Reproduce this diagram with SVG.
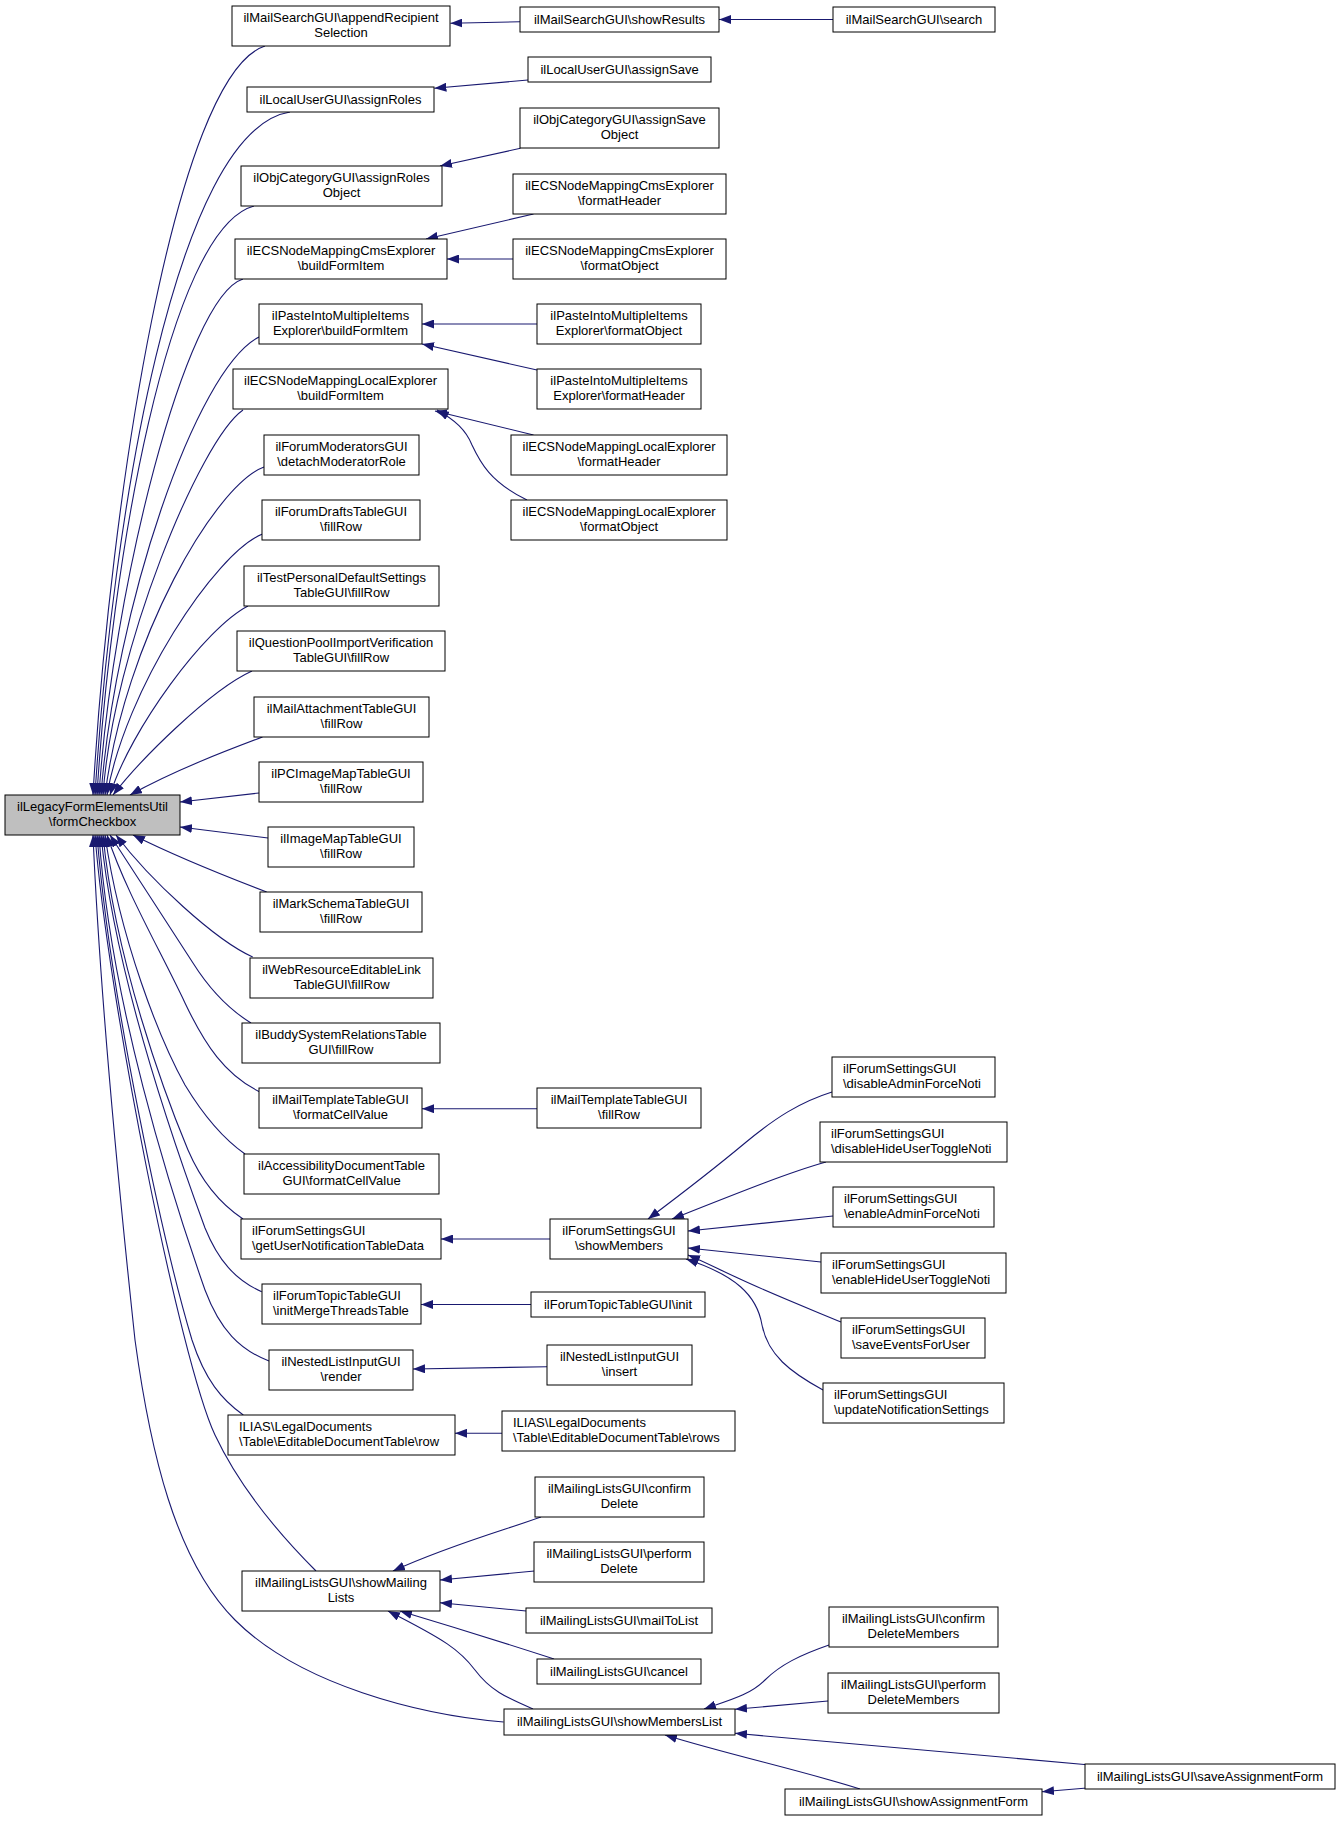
<svg xmlns="http://www.w3.org/2000/svg" width="1344" height="1821" viewBox="0 0 1344 1821">
<style>
g rect{fill:#fff;stroke:#000;stroke-width:1}
g rect.main{fill:#bfbfbf}
text{font-family:"Liberation Sans",Arial,Helvetica,sans-serif;font-size:13px;fill:#000;text-anchor:middle}
text.l{text-anchor:start}
#edges path{fill:none;stroke:#191970;stroke-width:1.1;marker-end:url(#a)}
</style>
<defs>
<marker id="a" markerWidth="12" markerHeight="9" refX="12" refY="4.5" orient="auto" markerUnits="userSpaceOnUse"><path d="M0,0 L12,4.5 L0,9 z" fill="#191970"/></marker>
</defs>
<rect width="1344" height="1821" style="fill:#fff;stroke:none"/>
<g id="edges">
<path d="M265,46 C175,75 110,500 93,795"/>
<path d="M290,112 C175,130 112,520 95,795"/>
<path d="M254,206 C168,229 111,565 97,795"/>
<path d="M243,279 C185,297 112,594 99,795"/>
<path d="M259,337 C195,370 115,610 101,795"/>
<path d="M243,410 C200,440 113,650 103,795"/>
<path d="M264,467 C215,485 125,640 105,795"/>
<path d="M262.5,534 C215,553 125,690 107,795"/>
<path d="M248,606 C205,628 130,730 110,795"/>
<path d="M252,671 C210,690 140,760 113,795"/>
<path d="M262.5,737 C228,750 175,770 130,795"/>
<path d="M259,793 L180,802"/>
<path d="M268,838 L180,827"/>
<path d="M266.7,892 C230,878 175,856 133,835"/>
<path d="M252.7,957 C215,940 150,880 116,835"/>
<path d="M251,1023 C230,1010 210,990 193,963 C175,935 130,866 110,835"/>
<path d="M260,1092 C225,1075 205,1045 185,1003 C160,950 125,890 107,835"/>
<path d="M245,1154 C225,1140 205,1118 185,1085 C160,1040 120,940 105,835"/>
<path d="M243,1219 C222,1205 203,1185 188,1150 C165,1095 115,960 103,835"/>
<path d="M261.7,1291.7 C235,1280 218,1260 205,1228 C180,1160 115,980 101,835"/>
<path d="M269,1361 C240,1350 220,1330 205,1290 C170,1190 110,1000 99,835"/>
<path d="M243.3,1415 C222,1400 205,1380 192,1340 C165,1250 110,1000 97,835"/>
<path d="M316,1571 C280,1535 240,1488 215,1435 C180,1360 108,1000 95,835"/>
<path d="M503.6,1722 C420,1715 300,1685 235,1620 C175,1560 150,1450 135,1340 C120,1200 100,1000 93,835"/>
<path d="M520,21.7 L450.4,23.3"/>
<path d="M833,19.5 L719,19.5"/>
<path d="M528,80 L434.4,88.3"/>
<path d="M520.5,148.3 L440,166"/>
<path d="M533.5,214 L426,239"/>
<path d="M513,259 L447,259"/>
<path d="M537,324 L422,324"/>
<path d="M537,370 L422,344"/>
<path d="M533.5,435 L435,411"/>
<path d="M527,500 C490,482 480,462 472,445 C466,430 455,420 437,410"/>
<path d="M537,1108.7 L422,1108.7"/>
<path d="M550,1239 L441,1239"/>
<path d="M832,1092 C800,1102 775,1118 745,1143 C715,1168 680,1195 648,1219"/>
<path d="M826,1162 C790,1172 740,1192 672,1219"/>
<path d="M833,1216 L688,1231"/>
<path d="M821,1262 L688,1248"/>
<path d="M841,1322 C800,1305 770,1293 740,1279 C720,1270 705,1262 688,1255"/>
<path d="M823,1390 C790,1372 768,1355 762,1325 C757,1295 735,1275 686,1259"/>
<path d="M531,1304.5 L421,1304.5"/>
<path d="M547,1366.7 L413,1369"/>
<path d="M502,1433.3 L455,1433.3"/>
<path d="M541,1517 C505,1530 450,1545 393,1571"/>
<path d="M534.4,1571 L440,1580"/>
<path d="M526.3,1611 L440,1602.7"/>
<path d="M554,1659 C520,1648 480,1635 400,1611"/>
<path d="M533,1709 C505,1697 490,1690 475,1670 C460,1650 445,1640 388,1611"/>
<path d="M829,1645 C800,1655 780,1665 765,1680 C750,1695 730,1700 704,1709"/>
<path d="M828,1701 L735,1709.3"/>
<path d="M1090,1765 L735,1733.3"/>
<path d="M860,1789 C800,1770 730,1755 665,1735"/>
<path d="M1090,1787.7 L1042,1791.7"/>
</g>
<g id="n1"><rect x="232" y="6" width="218" height="40"/><text x="341" y="22">ilMailSearchGUI\appendRecipient</text><text x="341" y="37">Selection</text></g>
<g id="n2"><rect x="520" y="7" width="199" height="25"/><text x="619.5" y="24">ilMailSearchGUI\showResults</text></g>
<g id="n3"><rect x="833" y="7" width="162" height="25"/><text x="914" y="24">ilMailSearchGUI\search</text></g>
<g id="n4"><rect x="247" y="87" width="187" height="25"/><text x="340.5" y="104">ilLocalUserGUI\assignRoles</text></g>
<g id="n5"><rect x="528" y="57" width="183" height="25"/><text x="619.5" y="74">ilLocalUserGUI\assignSave</text></g>
<g id="n6"><rect x="241" y="166" width="201" height="40"/><text x="341.5" y="182">ilObjCategoryGUI\assignRoles</text><text x="341.5" y="197">Object</text></g>
<g id="n7"><rect x="520" y="108" width="199" height="40"/><text x="619.5" y="124">ilObjCategoryGUI\assignSave</text><text x="619.5" y="139">Object</text></g>
<g id="n8"><rect x="235" y="239" width="212" height="40"/><text x="341" y="255">ilECSNodeMappingCmsExplorer</text><text x="341" y="270">\buildFormItem</text></g>
<g id="n9"><rect x="513" y="174" width="213" height="40"/><text x="619.5" y="190">ilECSNodeMappingCmsExplorer</text><text x="619.5" y="205">\formatHeader</text></g>
<g id="n10"><rect x="513" y="239" width="213" height="40"/><text x="619.5" y="255">ilECSNodeMappingCmsExplorer</text><text x="619.5" y="270">\formatObject</text></g>
<g id="n11"><rect x="259" y="304" width="163" height="40"/><text x="340.5" y="320">ilPasteIntoMultipleItems</text><text x="340.5" y="335">Explorer\buildFormItem</text></g>
<g id="n12"><rect x="537" y="304" width="164" height="40"/><text x="619" y="320">ilPasteIntoMultipleItems</text><text x="619" y="335">Explorer\formatObject</text></g>
<g id="n13"><rect x="537" y="369" width="164" height="40"/><text x="619" y="385">ilPasteIntoMultipleItems</text><text x="619" y="400">Explorer\formatHeader</text></g>
<g id="n14"><rect x="233" y="369" width="215" height="40"/><text x="340.5" y="385">ilECSNodeMappingLocalExplorer</text><text x="340.5" y="400">\buildFormItem</text></g>
<g id="n15"><rect x="511" y="435" width="216" height="40"/><text x="619" y="451">ilECSNodeMappingLocalExplorer</text><text x="619" y="466">\formatHeader</text></g>
<g id="n16"><rect x="511" y="500" width="216" height="40"/><text x="619" y="516">ilECSNodeMappingLocalExplorer</text><text x="619" y="531">\formatObject</text></g>
<g id="n17"><rect x="264" y="435" width="155" height="40"/><text x="341.5" y="451">ilForumModeratorsGUI</text><text x="341.5" y="466">\detachModeratorRole</text></g>
<g id="n18"><rect x="262" y="500" width="158" height="40"/><text x="341" y="516">ilForumDraftsTableGUI</text><text x="341" y="531">\fillRow</text></g>
<g id="n19"><rect x="244" y="566" width="195" height="40"/><text x="341.5" y="582">ilTestPersonalDefaultSettings</text><text x="341.5" y="597">TableGUI\fillRow</text></g>
<g id="n20"><rect x="237" y="631" width="208" height="40"/><text x="341" y="647">ilQuestionPoolImportVerification</text><text x="341" y="662">TableGUI\fillRow</text></g>
<g id="n21"><rect x="254" y="697" width="175" height="40"/><text x="341.5" y="713">ilMailAttachmentTableGUI</text><text x="341.5" y="728">\fillRow</text></g>
<g id="n22"><rect x="259" y="762" width="164" height="40"/><text x="341" y="778">ilPCImageMapTableGUI</text><text x="341" y="793">\fillRow</text></g>
<g id="n23"><rect class="main" x="5" y="795" width="175" height="40"/><text x="92.5" y="811">ilLegacyFormElementsUtil</text><text x="92.5" y="826">\formCheckbox</text></g>
<g id="n24"><rect x="268" y="827" width="146" height="40"/><text x="341" y="843">ilImageMapTableGUI</text><text x="341" y="858">\fillRow</text></g>
<g id="n25"><rect x="260" y="892" width="162" height="40"/><text x="341" y="908">ilMarkSchemaTableGUI</text><text x="341" y="923">\fillRow</text></g>
<g id="n26"><rect x="250" y="958" width="183" height="40"/><text x="341.5" y="974">ilWebResourceEditableLink</text><text x="341.5" y="989">TableGUI\fillRow</text></g>
<g id="n27"><rect x="242" y="1023" width="198" height="40"/><text x="341" y="1039">ilBuddySystemRelationsTable</text><text x="341" y="1054">GUI\fillRow</text></g>
<g id="n28"><rect x="259" y="1088" width="163" height="40"/><text x="340.5" y="1104">ilMailTemplateTableGUI</text><text x="340.5" y="1119">\formatCellValue</text></g>
<g id="n29"><rect x="537" y="1088" width="164" height="40"/><text x="619" y="1104">ilMailTemplateTableGUI</text><text x="619" y="1119">\fillRow</text></g>
<g id="n30"><rect x="244" y="1154" width="195" height="40"/><text x="341.5" y="1170">ilAccessibilityDocumentTable</text><text x="341.5" y="1185">GUI\formatCellValue</text></g>
<g id="n31"><rect x="241" y="1219" width="200" height="40"/><text class="l" x="252" y="1235">ilForumSettingsGUI</text><text class="l" x="252" y="1250">\getUserNotificationTableData</text></g>
<g id="n32"><rect x="550" y="1219" width="138" height="40"/><text x="619" y="1235">ilForumSettingsGUI</text><text x="619" y="1250">\showMembers</text></g>
<g id="n33"><rect x="832" y="1057" width="163" height="40"/><text class="l" x="843" y="1073">ilForumSettingsGUI</text><text class="l" x="843" y="1088">\disableAdminForceNoti</text></g>
<g id="n34"><rect x="820" y="1122" width="187" height="40"/><text class="l" x="831" y="1138">ilForumSettingsGUI</text><text class="l" x="831" y="1153">\disableHideUserToggleNoti</text></g>
<g id="n35"><rect x="833" y="1187" width="161" height="40"/><text class="l" x="844" y="1203">ilForumSettingsGUI</text><text class="l" x="844" y="1218">\enableAdminForceNoti</text></g>
<g id="n36"><rect x="821" y="1253" width="185" height="40"/><text class="l" x="832" y="1269">ilForumSettingsGUI</text><text class="l" x="832" y="1284">\enableHideUserToggleNoti</text></g>
<g id="n37"><rect x="841" y="1318" width="144" height="40"/><text class="l" x="852" y="1334">ilForumSettingsGUI</text><text class="l" x="852" y="1349">\saveEventsForUser</text></g>
<g id="n38"><rect x="823" y="1383" width="181" height="40"/><text class="l" x="834" y="1399">ilForumSettingsGUI</text><text class="l" x="834" y="1414">\updateNotificationSettings</text></g>
<g id="n39"><rect x="262" y="1284" width="159" height="40"/><text class="l" x="273" y="1300">ilForumTopicTableGUI</text><text class="l" x="273" y="1315">\initMergeThreadsTable</text></g>
<g id="n40"><rect x="531" y="1292" width="174" height="25"/><text x="618" y="1309">ilForumTopicTableGUI\init</text></g>
<g id="n41"><rect x="269" y="1350" width="144" height="40"/><text x="341" y="1366">ilNestedListInputGUI</text><text x="341" y="1381">\render</text></g>
<g id="n42"><rect x="547" y="1345" width="145" height="40"/><text x="619.5" y="1361">ilNestedListInputGUI</text><text x="619.5" y="1376">\insert</text></g>
<g id="n43"><rect x="228" y="1415" width="227" height="40"/><text class="l" x="239" y="1431">ILIAS\LegalDocuments</text><text class="l" x="239" y="1446">\Table\EditableDocumentTable\row</text></g>
<g id="n44"><rect x="502" y="1411" width="233" height="40"/><text class="l" x="513" y="1427">ILIAS\LegalDocuments</text><text class="l" x="513" y="1442">\Table\EditableDocumentTable\rows</text></g>
<g id="n45"><rect x="535" y="1477" width="169" height="40"/><text x="619.5" y="1493">ilMailingListsGUI\confirm</text><text x="619.5" y="1508">Delete</text></g>
<g id="n46"><rect x="534" y="1542" width="170" height="40"/><text x="619" y="1558">ilMailingListsGUI\perform</text><text x="619" y="1573">Delete</text></g>
<g id="n47"><rect x="242" y="1571" width="198" height="40"/><text x="341" y="1587">ilMailingListsGUI\showMailing</text><text x="341" y="1602">Lists</text></g>
<g id="n48"><rect x="526" y="1608" width="186" height="25"/><text x="619" y="1625">ilMailingListsGUI\mailToList</text></g>
<g id="n49"><rect x="537" y="1659" width="164" height="25"/><text x="619" y="1676">ilMailingListsGUI\cancel</text></g>
<g id="n50"><rect x="504" y="1709" width="231" height="26"/><text x="619.5" y="1726">ilMailingListsGUI\showMembersList</text></g>
<g id="n51"><rect x="829" y="1607" width="169" height="40"/><text x="913.5" y="1623">ilMailingListsGUI\confirm</text><text x="913.5" y="1638">DeleteMembers</text></g>
<g id="n52"><rect x="828" y="1673" width="171" height="40"/><text x="913.5" y="1689">ilMailingListsGUI\perform</text><text x="913.5" y="1704">DeleteMembers</text></g>
<g id="n53"><rect x="1085" y="1764" width="250" height="25"/><text x="1210" y="1781">ilMailingListsGUI\saveAssignmentForm</text></g>
<g id="n54"><rect x="785" y="1789" width="257" height="26"/><text x="913.5" y="1806">ilMailingListsGUI\showAssignmentForm</text></g>
</svg>
